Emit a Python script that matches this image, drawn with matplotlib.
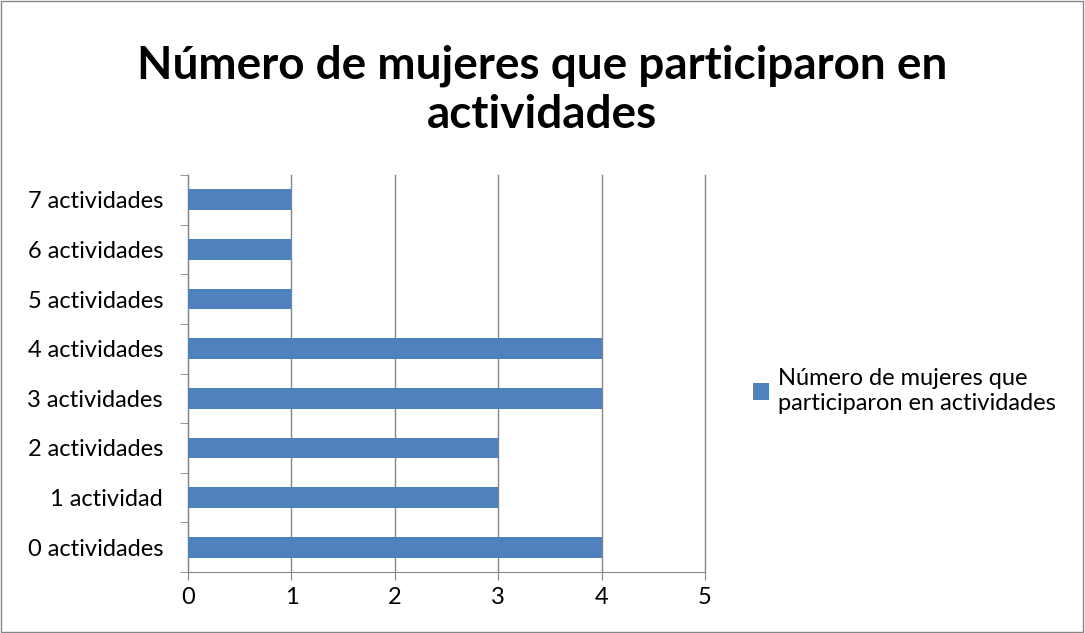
import matplotlib.pyplot as plt
import numpy as np
from matplotlib.patches import Rectangle

# Datos del gráfico
categorias = ['0 actividades', '1 actividad', '2 actividades', '3 actividades',
              '4 actividades', '5 actividades', '6 actividades', '7 actividades']
valores = [4, 3, 3, 4, 4, 1, 1, 1]
ticks_x = [0, 1, 2, 3, 4, 5]
titulo = 'Número de mujeres que participaron en\nactividades'
serie = 'Número de mujeres que\nparticiparon en actividades'

plt.rcParams['font.family'] = ['Lato', 'DejaVu Sans']

fig = plt.figure(figsize=(10.85, 6.33), dpi=100)
fig.patches.append(Rectangle((0.001, 0.001), 0.997, 0.997, transform=fig.transFigure,
                             fill=False, edgecolor='#868686', linewidth=1))

ax = fig.add_axes([0.1733, 0.0964, 0.6498 - 0.1733, 0.7235 - 0.0964])

posiciones = np.arange(len(categorias))
ax.barh(posiciones, valores, height=0.42, color='#4F81BD', zorder=3, label=serie)

ax.set_xlim(0, 5)
ax.set_ylim(-0.5, len(categorias) - 0.5)
ax.set_xticks(ticks_x)
ax.set_xticklabels([str(t) for t in ticks_x], fontsize=17)
ax.set_yticks(posiciones)
ax.set_yticklabels(categorias, fontsize=17)
ax.set_yticks(np.arange(-0.5, len(categorias), 1), minor=True)
ax.tick_params(axis='y', which='major', length=0, pad=18)
ax.tick_params(axis='y', which='minor', length=6, color='#868686', direction='out')
ax.tick_params(axis='x', length=6, color='#868686', direction='out', pad=5)

ax.grid(axis='x', color='#868686', linewidth=1, zorder=0)
for gl in ax.get_xgridlines():
    gl.set_clip_on(False)
for lado in ['top', 'right']:
    ax.spines[lado].set_visible(False)
for lado in ['left', 'bottom']:
    ax.spines[lado].set_color('#868686')

fig.text(0.5, 0.858, titulo, fontsize=33, fontweight='bold', ha='center', va='center',
         linespacing=1.2)

fig.legend(loc='center left', bbox_to_anchor=(0.683, 0.382), frameon=False,
           fontsize=17, handlelength=0.7, handleheight=0.7, handletextpad=0.35,
           borderpad=0)

fig.savefig('out.png', dpi=100)
